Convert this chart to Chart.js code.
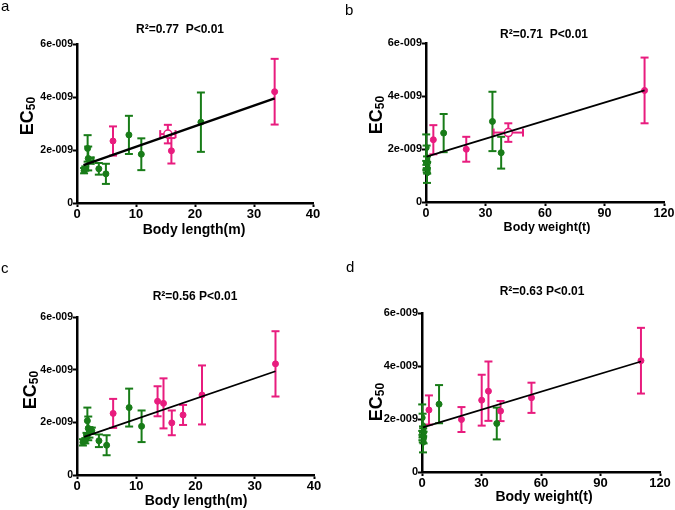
<!DOCTYPE html>
<html>
<head>
<meta charset="utf-8">
<script src="https://cdn.jsdelivr.net/npm/chart.js@4.4.1/dist/chart.umd.min.js"></script>
<style>
  html, body { margin: 0; padding: 0; background: #fff; }
  #wrap { position: relative; width: 675px; height: 510px; }
  canvas { position: absolute; }
</style>
</head>
<body>
<div id="wrap">
  <canvas id="panel-a" width="337" height="255" style="left:0;top:0"></canvas>
  <canvas id="panel-b" width="338" height="255" style="left:337px;top:0"></canvas>
  <canvas id="panel-c" width="337" height="255" style="left:0;top:255px"></canvas>
  <canvas id="panel-d" width="338" height="255" style="left:337px;top:255px"></canvas>
</div>
<script>
// EC50 values are in units of 1e-9

// ---- panel a : body length ----
const aGreenX   = [1.2, 1.4, 1.8, 1.9, 3.7, 4.9, 8.8, 10.9, 21.0];
const aGreenY   = [1.22, 1.30, 2.06, 1.68, 1.29, 1.10, 2.57, 1.84, 3.05];
const aGreenErr = [0.10, 0.08, 0.50, 0.45, 0.22, 0.38, 0.72, 0.60, 1.12];
const aGreenOpenX = [2.3], aGreenOpenY = [1.60], aGreenOpenXErr = [0.5], aGreenOpenErr = [0.12];
const aPinkX    = [6.1, 16.0, 33.5];
const aPinkY    = [2.34, 1.97, 4.20];
const aPinkErr  = [0.55, 0.48, 1.24];
const aPinkOpenX = [15.4], aPinkOpenY = [2.60], aPinkOpenXErr = [1.3], aPinkOpenErr = [0.35];
const aFitX = [1.1, 33.5];
const aFitY = [1.43, 3.95];

// ---- panel b : body weight ----
const bGreenX   = [0.1, 0.3, 0.2, 0.4, 0.6, 0.5, 8.9, 33.5, 37.9];
const bGreenY   = [2.05, 1.68, 1.30, 1.20, 1.29, 1.10, 2.60, 3.04, 1.86];
const bGreenErr = [0.50, 0.45, 0.10, 0.08, 0.22, 0.38, 0.72, 1.12, 0.60];
const bGreenOpenX = [0.5], bGreenOpenY = [1.60], bGreenOpenXErr = [0.7], bGreenOpenErr = [0.12];
const bPinkX    = [3.7, 20.3, 110.2];
const bPinkY    = [2.35, 1.99, 4.21];
const bPinkErr  = [0.55, 0.47, 1.24];
const bPinkOpenX = [41.5], bPinkOpenY = [2.62], bPinkOpenXErr = [7.4], bPinkOpenErr = [0.35];
const bFitX = [0.3, 110.2];
const bFitY = [1.71, 4.21];

// ---- panel c : body length ----
const cGreenX   = [1.0, 1.4, 1.6, 1.75, 1.9, 2.1, 2.5, 3.7, 5.0, 8.8, 10.9];
const cGreenY   = [1.24, 1.30, 1.50, 2.06, 1.77, 1.62, 1.68, 1.30, 1.13, 2.56, 1.85];
const cGreenErr = [0.12, 0.10, 0.10, 0.50, 0.45, 0.20, 0.12, 0.24, 0.38, 0.72, 0.60];
const cPinkX    = [6.1, 13.6, 14.6, 16.0, 17.9, 21.1, 33.5];
const cPinkY    = [2.34, 2.80, 2.72, 1.98, 2.28, 3.04, 4.22];
const cPinkErr  = [0.55, 0.57, 0.95, 0.47, 0.38, 1.12, 1.24];
const cFitX = [1.2, 33.5];
const cFitY = [1.45, 3.94];

// ---- panel d : body weight ----
const dGreenX   = [0.1, 0.3, 0.5, 0.2, 0.4, 0.6, 0.8, 0.5, 8.6, 37.7];
const dGreenY   = [2.05, 1.75, 1.60, 1.30, 1.22, 1.50, 1.30, 1.12, 2.56, 1.83];
const dGreenErr = [0.50, 0.45, 0.12, 0.10, 0.10, 0.15, 0.22, 0.38, 0.72, 0.60];
const dPinkX    = [3.5, 19.9, 30.1, 33.5, 39.6, 55.2, 110.4];
const dPinkY    = [2.34, 1.98, 2.71, 3.05, 2.30, 2.80, 4.20];
const dPinkErr  = [0.55, 0.47, 0.96, 1.12, 0.38, 0.57, 1.24];
const dFitX = [0.5, 110.4];
const dFitY = [1.68, 4.17];

// ---- axes / labels ----
const yTickValues = [0, 2, 4, 6];
const yTickLabels = ['0', '2e-009', '4e-009', '6e-009'];
const lengthTicks = [0, 10, 20, 30, 40];
const weightTicks = [0, 30, 60, 90, 120];
const statTitles = ['R\u00b2=0.77  P<0.01', 'R\u00b2=0.71  P<0.01', 'R\u00b2=0.56 P<0.01', 'R\u00b2=0.63 P<0.01'];
const panelLetters = ['a', 'b', 'c', 'd'];
const xTitles = ['Body length(m)', 'Body weight(t)', 'Body length(m)', 'Body weight(t)'];

const GREEN = '#187c18';
const PINK = '#e81c7e';
const FONT = 'Liberation Sans, Arial, sans-serif';

function pts(xs, ys, errs, xErrs) {
  return xs.map((x, i) => ({ x, y: ys[i], yErr: errs[i], xErr: xErrs ? xErrs[i] : 0 }));
}
function line(xs, ys) {
  return xs.map((x, i) => ({ x, y: ys[i] }));
}

// error bars under the markers
const errorBars = {
  id: 'errorBars',
  beforeDatasetsDraw(chart) {
    const { ctx, scales: { x, y } } = chart;
    const seg = (x1, y1, x2, y2) => { ctx.beginPath(); ctx.moveTo(x1, y1); ctx.lineTo(x2, y2); ctx.stroke(); };
    chart.data.datasets.forEach(ds => {
      if (!ds.errColor) return;
      ctx.save();
      ctx.strokeStyle = ds.errColor;
      ctx.lineWidth = 2;
      ds.data.forEach(p => {
        const px = x.getPixelForValue(p.x), py = y.getPixelForValue(p.y);
        if (p.yErr) {
          const t = y.getPixelForValue(p.y + p.yErr), b = y.getPixelForValue(p.y - p.yErr);
          seg(px, t, px, b);
          seg(px - 4, t, px + 4, t);
          seg(px - 4, b, px + 4, b);
        }
        if (p.xErr) {
          const l = x.getPixelForValue(Math.max(0, p.x - p.xErr)), r = x.getPixelForValue(p.x + p.xErr);
          seg(l, py, r, py);
          seg(l, py - 4, l, py + 4);
          seg(r, py - 4, r, py + 4);
        }
      });
      ctx.restore();
    });
  }
};

// letters, R2 titles, axis titles
const panelText = {
  id: 'panelText',
  afterDraw(chart, args, o) {
    const ctx = chart.ctx;
    ctx.save();
    ctx.fillStyle = '#000';
    ctx.textBaseline = 'alphabetic';

    ctx.font = '15px ' + FONT;
    ctx.textAlign = 'left';
    ctx.fillText(o.letter, o.letterPos[0], o.letterPos[1]);

    ctx.textBaseline = 'middle';
    ctx.textAlign = 'center';
    ctx.font = 'bold 12px ' + FONT;
    ctx.fillText(o.stat, o.statPos[0], o.statPos[1]);

    ctx.font = 'bold ' + o.xTitleSize + 'px ' + FONT;
    ctx.fillText(o.xTitle, o.xTitlePos[0], o.xTitlePos[1]);

    // EC50, rotated, with subscript
    ctx.translate(o.yTitlePos[0], o.yTitlePos[1]);
    ctx.rotate(-Math.PI / 2);
    ctx.textBaseline = 'alphabetic';
    ctx.textAlign = 'left';
    ctx.font = 'bold 18px ' + FONT;
    const w1 = ctx.measureText('EC').width;
    ctx.font = 'bold 12px ' + FONT;
    const w2 = ctx.measureText('50').width;
    const x0 = -(w1 + w2) / 2;
    ctx.font = 'bold 18px ' + FONT;
    ctx.fillText('EC', x0, 0);
    ctx.font = 'bold 12px ' + FONT;
    ctx.fillText('50', x0 + w1, 2);
    ctx.restore();
  }
};

function makePanel(id, p) {
  const W = p.width, H = 255;
  const datasets = [
    { type: 'line', data: line(p.fitX, p.fitY), borderColor: '#000', borderWidth: p.fitWidth,
      pointRadius: 0, fill: false, tension: 0 },
    { data: p.pink, backgroundColor: PINK, borderColor: PINK, pointRadius: 3, borderWidth: 1, errColor: PINK },
    { data: p.green, backgroundColor: GREEN, borderColor: GREEN, pointRadius: 3, borderWidth: 1, errColor: GREEN }
  ];
  if (p.pinkOpen) datasets.push({ data: p.pinkOpen, backgroundColor: '#fff', borderColor: PINK,
    pointRadius: 4, borderWidth: 1.5, errColor: PINK });
  if (p.greenOpen) datasets.push({ data: p.greenOpen, backgroundColor: 'rgba(255,255,255,0)', borderColor: GREEN,
    pointStyle: 'rect', pointRadius: 3.5, borderWidth: 1.5, errColor: GREEN });

  return new Chart(document.getElementById(id), {
    type: 'scatter',
    data: { datasets },
    options: {
      responsive: false,
      animation: false,
      devicePixelRatio: 1,
      layout: { padding: { left: 0, top: p.area.top, right: W - p.area.right, bottom: 0 } },
      plugins: {
        legend: { display: false },
        tooltip: { enabled: false },
        panelText: p.text
      },
      scales: {
        x: {
          type: 'linear',
          min: 0,
          max: p.xTicks[p.xTicks.length - 1],
          afterBuildTicks: s => { s.ticks = p.xTicks.map(v => ({ value: v })); },
          afterFit: s => { s.height = H - p.area.bottom; },
          grid: { display: true, drawOnChartArea: false, drawTicks: true, tickLength: 4, tickWidth: 2, tickColor: '#000' },
          border: { display: true, color: '#000', width: 2.5 },
          ticks: { color: '#000', padding: 0, maxRotation: 0, autoSkip: false,
            font: { family: FONT, size: p.xTickSize, weight: 'bold' } }
        },
        y: {
          type: 'linear',
          min: 0,
          max: 6,
          afterBuildTicks: s => { s.ticks = yTickValues.map(v => ({ value: v })); },
          afterFit: s => { s.width = p.area.left; },
          grid: { display: true, drawOnChartArea: false, drawTicks: true, tickLength: 4, tickWidth: 2, tickColor: '#000' },
          border: { display: true, color: '#000', width: 2.5 },
          ticks: { color: '#000', padding: 0, autoSkip: false,
            callback: v => yTickLabels[yTickValues.indexOf(v)],
            font: { family: FONT, size: p.yTickSize, weight: 'bold' } }
        }
      }
    },
    plugins: [errorBars, panelText]
  });
}

makePanel('panel-a', {
  width: 337,
  area: { left: 77, right: 313, top: 44, bottom: 203 },
  xTicks: lengthTicks, xTickSize: 13, yTickSize: 10.5, fitWidth: 2.5,
  fitX: aFitX, fitY: aFitY,
  green: pts(aGreenX, aGreenY, aGreenErr),
  pink: pts(aPinkX, aPinkY, aPinkErr),
  greenOpen: pts(aGreenOpenX, aGreenOpenY, aGreenOpenErr, aGreenOpenXErr),
  pinkOpen: pts(aPinkOpenX, aPinkOpenY, aPinkOpenErr, aPinkOpenXErr),
  text: { letter: panelLetters[0], letterPos: [1, 11], stat: statTitles[0], statPos: [180, 30],
    xTitle: xTitles[0], xTitleSize: 14, xTitlePos: [194, 230], yTitlePos: [33, 116] }
});

makePanel('panel-b', {
  width: 338,
  area: { left: 89, right: 327, top: 43, bottom: 202 },
  xTicks: weightTicks, xTickSize: 12.5, yTickSize: 11, fitWidth: 1.8,
  fitX: bFitX, fitY: bFitY,
  green: pts(bGreenX, bGreenY, bGreenErr),
  pink: pts(bPinkX, bPinkY, bPinkErr),
  greenOpen: pts(bGreenOpenX, bGreenOpenY, bGreenOpenErr, bGreenOpenXErr),
  pinkOpen: pts(bPinkOpenX, bPinkOpenY, bPinkOpenErr, bPinkOpenXErr),
  text: { letter: panelLetters[1], letterPos: [8, 15], stat: statTitles[1], statPos: [207, 35],
    xTitle: xTitles[1], xTitleSize: 12.5, xTitlePos: [210, 228], yTitlePos: [45, 115] }
});

makePanel('panel-c', {
  width: 337,
  area: { left: 77, right: 314, top: 62, bottom: 220 },
  xTicks: lengthTicks, xTickSize: 13, yTickSize: 10.5, fitWidth: 1.8,
  fitX: cFitX, fitY: cFitY,
  green: pts(cGreenX, cGreenY, cGreenErr),
  pink: pts(cPinkX, cPinkY, cPinkErr),
  text: { letter: panelLetters[2], letterPos: [1, 18], stat: statTitles[2], statPos: [195, 42],
    xTitle: xTitles[2], xTitleSize: 14, xTitlePos: [196, 246], yTitlePos: [36, 135] }
});

makePanel('panel-d', {
  width: 338,
  area: { left: 85, right: 323, top: 58, bottom: 217 },
  xTicks: weightTicks, xTickSize: 13, yTickSize: 11, fitWidth: 1.8,
  fitX: dFitX, fitY: dFitY,
  green: pts(dGreenX, dGreenY, dGreenErr),
  pink: pts(dPinkX, dPinkY, dPinkErr),
  text: { letter: panelLetters[3], letterPos: [9, 17], stat: statTitles[3], statPos: [205, 37],
    xTitle: xTitles[3], xTitleSize: 14, xTitlePos: [207, 242], yTitlePos: [45, 147] }
});
</script>
</body>
</html>
